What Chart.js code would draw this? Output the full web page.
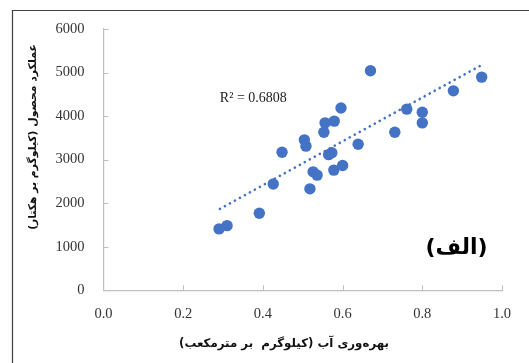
<!DOCTYPE html>
<html><head><meta charset="utf-8">
<script src="https://cdn.jsdelivr.net/npm/chart.js@4.4.1/dist/chart.umd.min.js"></script>
<style>html,body{margin:0;padding:0;background:#fff;overflow:hidden}canvas{display:block}</style>
</head><body>
<canvas id="c" width="529" height="363"></canvas>
<script>
const waterProductivity = [0.290,0.310,0.391,0.426,0.448,0.504,0.508,0.518,0.526,0.536,0.553,0.556,0.579,0.565,0.573,0.578,0.600,0.596,0.639,0.670,0.731,0.761,0.800,0.800,0.878,0.949];
const cropYield = [1410,1485,1770,2440,3170,3455,3310,2330,2720,2645,3630,3845,3885,3115,3160,2760,2865,4185,3355,5040,3630,4160,4090,3845,4580,4895];
const trendX = [0.292, 0.944];
const trendY = [1870, 5150];
const xTickValues = [0, 0.2, 0.4, 0.6, 0.8, 1.0];
const yTickValues = [0, 1000, 2000, 3000, 4000, 5000, 6000];
const xAxisTitle = '\u200Fبهره‌وری آب (کیلوگرم  بر مترمکعب)\u200F';
const yAxisTitle = '\u200Fعملکرد محصول (کیلوگرم بر هکتار)\u200F';
const r2Label = 'R² = 0.6808';
const panelLabel = '\u200F(الف)\u200F';

const blue = '#4472C4';
const axisGray = '#bfbfbf';

const decorations = {
  id: 'decorations',
  beforeDatasetsDraw(chart) {
    const {ctx, chartArea: a, scales: {x, y}} = chart;
    ctx.save();
    ctx.strokeStyle = axisGray;
    ctx.lineWidth = 1;
    ctx.beginPath();
    xTickValues.forEach(v => { if (v === 0) return; const px = Math.round(x.getPixelForValue(v)) + 0.5; ctx.moveTo(px, a.bottom); ctx.lineTo(px, a.bottom - 5); });
    yTickValues.forEach(v => { if (v === 0) return; const py = Math.round(y.getPixelForValue(v)) + 0.5; ctx.moveTo(a.left, py); ctx.lineTo(a.left + 5, py); });
    ctx.stroke();
    ctx.restore();
  },
  afterDraw(chart) {
    const {ctx, scales: {x, y}} = chart;
    ctx.save();
    ctx.fillStyle = '#222';
    ctx.font = '14px "Liberation Serif"';
    ctx.textAlign = 'left';
    ctx.textBaseline = 'middle';
    ctx.fillText(r2Label, x.getPixelForValue(0.292), y.getPixelForValue(4400));
    ctx.fillStyle = '#000';
    ctx.font = 'bold 22px "DejaVu Sans"';
    ctx.textAlign = 'center';
    ctx.fillText(panelLabel, x.getPixelForValue(0.886), y.getPixelForValue(975));
    // axis titles
    ctx.fillStyle = '#111';
    ctx.font = 'bold 11.8px "DejaVu Sans"';
    ctx.fillText(xAxisTitle, 284, 344);
    ctx.save();
    ctx.translate(33, 137);
    ctx.rotate(-Math.PI / 2);
    ctx.font = 'bold 10.8px "DejaVu Sans"';
    ctx.fillText(yAxisTitle, 0, 0);
    ctx.restore();
    // frame
    ctx.strokeStyle = '#404040';
    ctx.lineWidth = 1.2;
    ctx.beginPath();
    ctx.moveTo(12.5, 363); ctx.lineTo(12.5, 10.5); ctx.lineTo(529, 10.5);
    ctx.stroke();
    ctx.restore();
  }
};

new Chart(document.getElementById('c'), {
  type: 'scatter',
  data: {
    datasets: [
      {
        label: 'data',
        data: waterProductivity.map((v, i) => ({x: v, y: cropYield[i]})),
        backgroundColor: blue,
        borderColor: blue,
        borderWidth: 0,
        pointRadius: 5.7,
        pointHoverRadius: 5.7,
        order: 1
      },
      {
        label: 'trend',
        type: 'line',
        data: trendX.map((v, i) => ({x: v, y: trendY[i]})),
        borderColor: blue,
        borderWidth: 2.6,
        borderDash: [0.1, 5.6],
        borderCapStyle: 'round',
        pointRadius: 0,
        fill: false,
        order: 2
      }
    ]
  },
  options: {
    responsive: false,
    animation: false,
    events: [],
    layout: {padding: {left: 12, top: 29, right: 27, bottom: 0}},
    plugins: {legend: {display: false}, tooltip: {enabled: false}},
    scales: {
      x: {
        type: 'linear', min: 0, max: 1,
        afterBuildTicks: s => { s.ticks = xTickValues.map(v => ({value: v})); },
        afterFit: s => { s.height = 72.7; },
        grid: {display: true, drawOnChartArea: false, drawTicks: false},
        border: {color: axisGray, width: 1.2},
        ticks: {padding: 15, color: '#333', font: {family: 'Liberation Serif', size: 14.5}, callback: v => Number(v).toFixed(1)},
        title: {display: false, text: xAxisTitle}
      },
      y: {
        type: 'linear', min: 0, max: 6000,
        afterBuildTicks: s => { s.ticks = yTickValues.map(v => ({value: v})); },
        afterFit: s => { s.width = 91.5; },
        grid: {display: true, drawOnChartArea: false, drawTicks: false},
        border: {color: axisGray, width: 1.2},
        ticks: {padding: 19, color: '#333', font: {family: 'Liberation Serif', size: 14.5}, callback: v => String(v)},
        title: {display: false, text: yAxisTitle}
      }
    }
  },
  plugins: [decorations]
});
</script>
</body></html>
